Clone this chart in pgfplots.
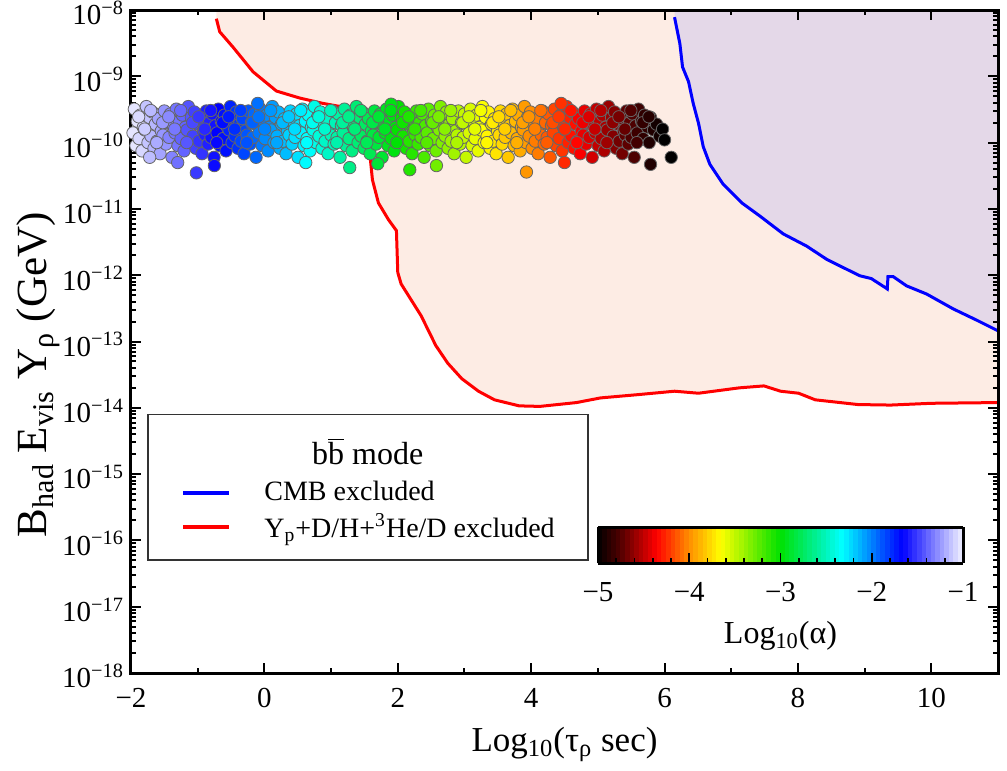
\documentclass[border=0pt]{standalone}
\usepackage{fontspec}
\setmainfont{Liberation Serif}
\usepackage{pgfplots}
\usepackage{pgfplotstable}
\pgfplotsset{compat=1.18}
\definecolor{redfill}{RGB}{253,236,228}
\definecolor{bluefill}{RGB}{228,216,232}
\pgfplotsset{colormap={alphamap}{rgb255(0cm)=(0,0,0) rgb255(0.25cm)=(80,0,0) rgb255(0.65cm)=(255,0,0) rgb255(1cm)=(255,140,0) rgb255(1.35cm)=(255,255,0) rgb255(2cm)=(0,225,0) rgb255(2.4cm)=(0,240,150) rgb255(2.68cm)=(0,255,255) rgb255(3.34cm)=(0,0,255) rgb255(4cm)=(240,240,255)}}

\pgfplotstableread{
x y c
-1.95 3.2e-10 -1.03
-1.905 2.1e-10 -1.03
-1.97 1.4e-10 -1.03
-1.925 0.9e-10 -1.03
-1.86 2.6e-10 -1.07
-1.815 1.7e-10 -1.07
-1.88 1.15e-10 -1.07
-1.835 0.75e-10 -1.07
-1.77 3.5e-10 -1.12
-1.725 2.4e-10 -1.12
-1.79 1.55e-10 -1.12
-1.745 1.0e-10 -1.12
-1.68 2.9e-10 -1.16
-1.635 1.9e-10 -1.16
-1.70 1.25e-10 -1.16
-1.655 0.82e-10 -1.16
-1.59 2.3e-10 -1.21
-1.545 1.5e-10 -1.21
-1.61 1.05e-10 -1.21
-1.565 0.68e-10 -1.21
-1.50 3.0e-10 -1.25
-1.455 2.0e-10 -1.25
-1.52 1.3e-10 -1.25
-1.475 0.95e-10 -1.25
-1.41 2.7e-10 -1.30
-1.365 1.8e-10 -1.30
-1.43 1.2e-10 -1.30
-1.385 0.6e-10 -1.30
-1.32 3.2e-10 -1.34
-1.275 2.1e-10 -1.34
-1.34 1.4e-10 -1.34
-1.295 0.9e-10 -1.34
-1.23 2.6e-10 -1.39
-1.185 1.7e-10 -1.39
-1.25 1.15e-10 -1.39
-1.205 0.75e-10 -1.39
-1.14 3.5e-10 -1.43
-1.095 2.4e-10 -1.43
-1.16 1.55e-10 -1.43
-1.115 1.0e-10 -1.43
-1.05 2.9e-10 -1.48
-1.005 1.9e-10 -1.48
-1.07 1.25e-10 -1.48
-1.025 0.82e-10 -1.48
-0.96 2.3e-10 -1.52
-0.915 1.5e-10 -1.52
-0.98 1.05e-10 -1.52
-0.935 0.68e-10 -1.52
-0.87 3.0e-10 -1.57
-0.825 2.0e-10 -1.57
-0.89 1.3e-10 -1.57
-0.845 0.95e-10 -1.57
-0.78 2.7e-10 -1.61
-0.735 1.8e-10 -1.61
-0.80 1.2e-10 -1.61
-0.755 0.6e-10 -1.61
-0.69 3.2e-10 -1.66
-0.645 2.1e-10 -1.66
-0.71 1.4e-10 -1.66
-0.665 0.9e-10 -1.66
-0.60 2.6e-10 -1.70
-0.555 1.7e-10 -1.70
-0.62 1.15e-10 -1.70
-0.575 0.75e-10 -1.70
-0.51 3.5e-10 -1.75
-0.465 2.4e-10 -1.75
-0.53 1.55e-10 -1.75
-0.485 1.0e-10 -1.75
-0.42 2.9e-10 -1.79
-0.375 1.9e-10 -1.79
-0.44 1.25e-10 -1.79
-0.395 0.82e-10 -1.79
-0.33 2.3e-10 -1.84
-0.285 1.5e-10 -1.84
-0.35 1.05e-10 -1.84
-0.305 0.68e-10 -1.84
-0.24 3.0e-10 -1.88
-0.195 2.0e-10 -1.88
-0.26 1.3e-10 -1.88
-0.215 0.95e-10 -1.88
-0.15 2.7e-10 -1.93
-0.105 1.8e-10 -1.93
-0.17 1.2e-10 -1.93
-0.125 0.6e-10 -1.93
-0.06 3.2e-10 -1.97
-0.015 2.1e-10 -1.97
-0.08 1.4e-10 -1.97
-0.035 0.9e-10 -1.97
0.03 2.6e-10 -2.02
0.075 1.7e-10 -2.02
0.01 1.15e-10 -2.02
0.055 0.75e-10 -2.02
0.12 3.5e-10 -2.06
0.165 2.4e-10 -2.06
0.10 1.55e-10 -2.06
0.145 1.0e-10 -2.06
0.21 2.9e-10 -2.11
0.255 1.9e-10 -2.11
0.19 1.25e-10 -2.11
0.235 0.82e-10 -2.11
0.30 2.3e-10 -2.15
0.345 1.5e-10 -2.15
0.28 1.05e-10 -2.15
0.325 0.68e-10 -2.15
0.39 3.0e-10 -2.20
0.435 2.0e-10 -2.20
0.37 1.3e-10 -2.20
0.415 0.95e-10 -2.20
0.48 2.7e-10 -2.24
0.525 1.8e-10 -2.24
0.46 1.2e-10 -2.24
0.505 0.6e-10 -2.24
0.57 3.2e-10 -2.29
0.615 2.1e-10 -2.29
0.55 1.4e-10 -2.29
0.595 0.9e-10 -2.29
0.66 2.6e-10 -2.33
0.705 1.7e-10 -2.33
0.64 1.15e-10 -2.33
0.685 0.75e-10 -2.33
0.75 3.5e-10 -2.38
0.795 2.4e-10 -2.38
0.73 1.55e-10 -2.38
0.775 1.0e-10 -2.38
0.84 2.9e-10 -2.42
0.885 1.9e-10 -2.42
0.82 1.25e-10 -2.42
0.865 0.82e-10 -2.42
0.93 2.3e-10 -2.47
0.975 1.5e-10 -2.47
0.91 1.05e-10 -2.47
0.955 0.68e-10 -2.47
1.02 3.0e-10 -2.51
1.065 2.0e-10 -2.51
1.00 1.3e-10 -2.51
1.045 0.95e-10 -2.51
1.11 2.7e-10 -2.56
1.155 1.8e-10 -2.56
1.09 1.2e-10 -2.56
1.135 0.6e-10 -2.56
1.20 3.2e-10 -2.60
1.245 2.1e-10 -2.60
1.18 1.4e-10 -2.60
1.225 0.9e-10 -2.60
1.29 2.6e-10 -2.65
1.335 1.7e-10 -2.65
1.27 1.15e-10 -2.65
1.315 0.75e-10 -2.65
1.38 3.5e-10 -2.69
1.425 2.4e-10 -2.69
1.36 1.55e-10 -2.69
1.405 1.0e-10 -2.69
1.47 2.9e-10 -2.74
1.515 1.9e-10 -2.74
1.45 1.25e-10 -2.74
1.495 0.82e-10 -2.74
1.56 2.3e-10 -2.78
1.605 1.5e-10 -2.78
1.54 1.05e-10 -2.78
1.585 0.68e-10 -2.78
1.65 3.0e-10 -2.83
1.695 2.0e-10 -2.83
1.63 1.3e-10 -2.83
1.675 0.95e-10 -2.83
1.74 2.7e-10 -2.87
1.785 1.8e-10 -2.87
1.72 1.2e-10 -2.87
1.765 0.6e-10 -2.87
1.83 3.2e-10 -2.92
1.875 2.1e-10 -2.92
1.81 1.4e-10 -2.92
1.855 0.9e-10 -2.92
1.92 2.6e-10 -2.96
1.965 1.7e-10 -2.96
1.90 1.15e-10 -2.96
1.945 0.75e-10 -2.96
2.01 3.5e-10 -3.01
2.055 2.4e-10 -3.01
1.99 1.55e-10 -3.01
2.035 1.0e-10 -3.01
2.10 2.9e-10 -3.05
2.145 1.9e-10 -3.05
2.08 1.25e-10 -3.05
2.125 0.82e-10 -3.05
2.19 2.3e-10 -3.10
2.235 1.5e-10 -3.10
2.17 1.05e-10 -3.10
2.215 0.68e-10 -3.10
2.28 3.0e-10 -3.14
2.325 2.0e-10 -3.14
2.26 1.3e-10 -3.14
2.305 0.95e-10 -3.14
2.37 2.7e-10 -3.19
2.415 1.8e-10 -3.19
2.35 1.2e-10 -3.19
2.395 0.6e-10 -3.19
2.46 3.2e-10 -3.23
2.505 2.1e-10 -3.23
2.44 1.4e-10 -3.23
2.485 0.9e-10 -3.23
2.55 2.6e-10 -3.28
2.595 1.7e-10 -3.28
2.53 1.15e-10 -3.28
2.575 0.75e-10 -3.28
2.64 3.5e-10 -3.32
2.685 2.4e-10 -3.32
2.62 1.55e-10 -3.32
2.665 1.0e-10 -3.32
2.73 2.9e-10 -3.37
2.775 1.9e-10 -3.37
2.71 1.25e-10 -3.37
2.755 0.82e-10 -3.37
2.82 2.3e-10 -3.41
2.865 1.5e-10 -3.41
2.80 1.05e-10 -3.41
2.845 0.68e-10 -3.41
2.91 3.0e-10 -3.46
2.955 2.0e-10 -3.46
2.89 1.3e-10 -3.46
2.935 0.95e-10 -3.46
3.00 2.7e-10 -3.50
3.045 1.8e-10 -3.50
2.98 1.2e-10 -3.50
3.025 0.6e-10 -3.50
3.09 3.2e-10 -3.55
3.135 2.1e-10 -3.55
3.07 1.4e-10 -3.55
3.115 0.9e-10 -3.55
3.18 2.6e-10 -3.59
3.225 1.7e-10 -3.59
3.16 1.15e-10 -3.59
3.205 0.75e-10 -3.59
3.27 3.5e-10 -3.64
3.315 2.4e-10 -3.64
3.25 1.55e-10 -3.64
3.295 1.0e-10 -3.64
3.36 2.9e-10 -3.68
3.405 1.9e-10 -3.68
3.34 1.25e-10 -3.68
3.385 0.82e-10 -3.68
3.45 2.3e-10 -3.73
3.495 1.5e-10 -3.73
3.43 1.05e-10 -3.73
3.475 0.68e-10 -3.73
3.54 3.0e-10 -3.77
3.585 2.0e-10 -3.77
3.52 1.3e-10 -3.77
3.565 0.95e-10 -3.77
3.63 2.7e-10 -3.82
3.675 1.8e-10 -3.82
3.61 1.2e-10 -3.82
3.655 0.6e-10 -3.82
3.72 3.2e-10 -3.86
3.765 2.1e-10 -3.86
3.70 1.4e-10 -3.86
3.745 0.9e-10 -3.86
3.81 2.6e-10 -3.91
3.855 1.7e-10 -3.91
3.79 1.15e-10 -3.91
3.835 0.75e-10 -3.91
3.90 3.5e-10 -3.95
3.945 2.4e-10 -3.95
3.88 1.55e-10 -3.95
3.925 1.0e-10 -3.95
3.99 2.9e-10 -4.00
4.035 1.9e-10 -4.00
3.97 1.25e-10 -4.00
4.015 0.82e-10 -4.00
4.08 2.3e-10 -4.04
4.125 1.5e-10 -4.04
4.06 1.05e-10 -4.04
4.105 0.68e-10 -4.04
4.17 3.0e-10 -4.09
4.215 2.0e-10 -4.09
4.15 1.3e-10 -4.09
4.195 0.95e-10 -4.09
4.26 2.7e-10 -4.13
4.305 1.8e-10 -4.13
4.24 1.2e-10 -4.13
4.285 0.6e-10 -4.13
4.35 3.2e-10 -4.18
4.395 2.1e-10 -4.18
4.33 1.4e-10 -4.18
4.375 0.9e-10 -4.18
4.44 2.6e-10 -4.22
4.485 1.7e-10 -4.22
4.42 1.15e-10 -4.22
4.465 0.75e-10 -4.22
4.53 3.5e-10 -4.27
4.575 2.4e-10 -4.27
4.51 1.55e-10 -4.27
4.555 1.0e-10 -4.27
4.62 2.9e-10 -4.31
4.665 1.9e-10 -4.31
4.60 1.25e-10 -4.31
4.645 0.82e-10 -4.31
4.71 2.3e-10 -4.36
4.755 1.5e-10 -4.36
4.69 1.05e-10 -4.36
4.735 0.68e-10 -4.36
4.80 3.0e-10 -4.40
4.845 2.0e-10 -4.40
4.78 1.3e-10 -4.40
4.825 0.95e-10 -4.40
4.89 2.7e-10 -4.45
4.935 1.8e-10 -4.45
4.87 1.2e-10 -4.45
4.915 0.6e-10 -4.45
4.98 3.2e-10 -4.49
5.025 2.1e-10 -4.49
4.96 1.4e-10 -4.49
5.005 0.9e-10 -4.49
5.07 2.6e-10 -4.54
5.115 1.7e-10 -4.54
5.05 1.15e-10 -4.54
5.095 0.75e-10 -4.54
5.16 3.5e-10 -4.58
5.205 2.4e-10 -4.58
5.14 1.55e-10 -4.58
5.185 1.0e-10 -4.58
5.25 2.9e-10 -4.63
5.295 1.9e-10 -4.63
5.23 1.25e-10 -4.63
5.275 0.82e-10 -4.63
5.34 2.3e-10 -4.67
5.385 1.5e-10 -4.67
5.32 1.05e-10 -4.67
5.365 0.68e-10 -4.67
5.43 3.0e-10 -4.72
5.475 2.0e-10 -4.72
5.41 1.3e-10 -4.72
5.455 0.95e-10 -4.72
5.52 2.7e-10 -4.76
5.565 1.8e-10 -4.76
5.50 1.2e-10 -4.76
5.545 0.6e-10 -4.76
5.61 3.2e-10 -4.81
5.655 2.1e-10 -4.81
5.59 1.4e-10 -4.81
5.70 2.6e-10 -4.85
5.745 1.7e-10 -4.85
5.68 1.15e-10 -4.85
5.79 2.4e-10 -4.90
5.835 1.55e-10 -4.90
5.77 1.0e-10 -4.90
5.88 1.9e-10 -4.94
5.925 1.25e-10 -4.94
5.97 1.6e-10 -4.99
6.00 1.1e-10 -5.00
6.10 0.6e-10 -5.00
5.79 0.47e-10 -4.90
-1.02 0.35e-10 -1.50
-1.72 0.6e-10 -1.14
1.28 0.42e-10 -2.64
2.18 0.39e-10 -3.09
2.58 0.45e-10 -3.29
3.93 0.36e-10 -3.97
-0.75 0.45e-10 -1.63
0.62 0.5e-10 -2.31
4.50 0.5e-10 -4.25
1.70 0.48e-10 -2.85
-1.30 0.5e-10 -1.35
-0.10 3.9e-10 -1.95
4.45 3.9e-10 -4.23
1.90 3.8e-10 -2.95
-1.885 2.45e-10 -1.06
-1.795 1.6e-10 -1.10
-1.705 3.05e-10 -1.15
-1.615 1.0e-10 -1.19
-1.525 2.0e-10 -1.24
-1.435 2.45e-10 -1.28
-1.345 1.6e-10 -1.33
-1.255 3.05e-10 -1.37
-1.165 1.0e-10 -1.42
-1.075 2.0e-10 -1.46
-0.985 2.45e-10 -1.51
-0.895 1.6e-10 -1.55
-0.805 3.05e-10 -1.60
-0.715 1.0e-10 -1.64
-0.625 2.0e-10 -1.69
-0.535 2.45e-10 -1.73
-0.445 1.6e-10 -1.78
-0.355 3.05e-10 -1.82
-0.265 1.0e-10 -1.87
-0.175 2.0e-10 -1.91
-0.085 2.45e-10 -1.96
0.005 1.6e-10 -2.00
0.095 3.05e-10 -2.05
0.185 1.0e-10 -2.09
0.275 2.0e-10 -2.14
0.365 2.45e-10 -2.18
0.455 1.6e-10 -2.23
0.545 3.05e-10 -2.27
0.635 1.0e-10 -2.32
0.725 2.0e-10 -2.36
0.815 2.45e-10 -2.41
0.905 1.6e-10 -2.45
0.995 3.05e-10 -2.50
1.085 1.0e-10 -2.54
1.175 2.0e-10 -2.59
1.265 2.45e-10 -2.63
1.355 1.6e-10 -2.68
1.445 3.05e-10 -2.72
1.535 1.0e-10 -2.77
1.625 2.0e-10 -2.81
1.715 2.45e-10 -2.86
1.805 1.6e-10 -2.90
1.895 3.05e-10 -2.95
1.985 1.0e-10 -2.99
2.075 2.0e-10 -3.04
2.165 2.45e-10 -3.08
2.255 1.6e-10 -3.13
2.345 3.05e-10 -3.17
2.435 1.0e-10 -3.22
2.525 2.0e-10 -3.26
2.615 2.45e-10 -3.31
2.705 1.6e-10 -3.35
2.795 3.05e-10 -3.40
2.885 1.0e-10 -3.44
2.975 2.0e-10 -3.49
3.065 2.45e-10 -3.53
3.155 1.6e-10 -3.58
3.245 3.05e-10 -3.62
3.335 1.0e-10 -3.67
3.425 2.0e-10 -3.71
3.515 2.45e-10 -3.76
3.605 1.6e-10 -3.80
3.695 3.05e-10 -3.85
3.785 1.0e-10 -3.89
3.875 2.0e-10 -3.94
3.965 2.45e-10 -3.98
4.055 1.6e-10 -4.03
4.145 3.05e-10 -4.07
4.235 1.0e-10 -4.12
4.325 2.0e-10 -4.16
4.415 2.45e-10 -4.21
4.505 1.6e-10 -4.25
4.595 3.05e-10 -4.30
4.685 1.0e-10 -4.34
4.775 2.0e-10 -4.39
4.865 2.45e-10 -4.43
4.955 1.6e-10 -4.48
5.045 3.05e-10 -4.52
5.135 1.0e-10 -4.57
5.225 2.0e-10 -4.61
5.315 2.45e-10 -4.66
5.405 1.6e-10 -4.70
5.495 3.05e-10 -4.75
5.585 1.0e-10 -4.79
5.675 2.0e-10 -4.84
5.765 2.45e-10 -4.88
}\scatterdata

\begin{document}
\begin{tikzpicture}
\begin{axis}[
  name=main,
  scale only axis, width=433.5pt, height=331.5pt,
  xmin=-2, xmax=11, ymin=1e-18, ymax=1e-8, ymode=log,
  axis on top,
  xtick={-2,0,2,4,6,8,10},
  xticklabels={−2,0,2,4,6,8,10},
  minor x tick num=1,
  ytick={1e-18,1e-17,1e-16,1e-15,1e-14,1e-13,1e-12,1e-11,1e-10,1e-9,1e-8},
  yticklabels={10\textsuperscript{−18},10\textsuperscript{−17},10\textsuperscript{−16},10\textsuperscript{−15},10\textsuperscript{−14},10\textsuperscript{−13},10\textsuperscript{−12},10\textsuperscript{−11},10\textsuperscript{−10},10\textsuperscript{−9},10\textsuperscript{−8}},
  tick align=inside,
  major tick length=5pt, minor tick length=2.5pt,
  every tick/.style={black, line width=1pt},
  axis line style={line width=1.5pt},
  tick label style={font=\fontsize{14.5}{17}\selectfont},
  xticklabel style={yshift=-4pt},
  yticklabel style={yshift=-1.5pt},
  xlabel={Log\textsubscript{10}(τ\textsubscript{ρ} sec)},
  ylabel={B\textsubscript{had} E\textsubscript{vis} Y\textsubscript{ρ} (GeV)},
  xlabel style={font=\fontsize{17.5}{21}\selectfont, at={(axis description cs:0.5,-0.108)}, anchor=center},
  ylabel style={font=\fontsize{21.5}{25}\selectfont, at={(axis description cs:-0.107,0.45)}, anchor=center},
  colormap name=alphamap,
  point meta min=-5, point meta max=-1,
  colorbar horizontal,
  colorbar sampled={surf, mark=none, shader=flat},
  colorbar style={
    at={(parent axis.south west)},
    anchor=south west,
    xshift=233.5pt, yshift=63.5pt,
    scale only axis,
    width=182.5pt, height=18pt,
    samples=81,
    enlargelimits=false,
    axis on top,
    xtick={-5,-4,-3,-2,-1},
    xticklabels={−5,−4,−3,−2,−1},
    minor x tick num=4,
    xtick pos=left, xticklabel pos=left,
    tick align=inside,
    major tick length=5pt, minor tick length=2.5pt,
    every tick/.style={black, line width=0.9pt},
    axis line style={line width=1.5pt},
    tick label style={font=\fontsize{14.5}{17}\selectfont},
    xticklabel style={yshift=-6pt},
    xlabel={Log\textsubscript{10}(α)},
    xlabel style={font=\fontsize{16}{19}\selectfont, yshift=-3pt},
  },
  legend style={draw=none, fill=none, at={(rel axis cs:0.0577,0.2445)}, anchor=west,
    font=\fontsize{14}{16}\selectfont, inner sep=0pt, row sep=1pt, column sep=14.5pt},
  legend image code/.code={\draw[#1, line width=2pt] (0pt,0pt) -- (23pt,0pt);},
  legend cell align=left,
]
% excluded regions
\addplot[draw=none, fill=redfill, forget plot] coordinates {
(-0.72,1e-8) (-0.72,7.4e-9) (-0.67,4.7e-9) (-0.47,2.75e-9) (-0.17,1.17e-9) (0.18,6.0e-10)
(0.53,4.7e-10) (0.88,3.9e-10) (1.28,3.3e-10) (1.58,3.0e-10) (1.62,2.35e-10) (1.66,1.23e-10)
(1.63,7.8e-11) (1.59,5.5e-11) (1.62,2.75e-11) (1.71,1.23e-11) (1.86,6.9e-12) (1.98,4.7e-12)
(2.0,1.1e-12) (2.05,7.4e-13) (2.35,2.45e-13) (2.57,8.7e-14) (2.75,4.7e-14) (2.96,2.75e-14)
(3.21,1.78e-14) (3.45,1.32e-14) (3.82,1.07e-14) (4.13,1.05e-14) (4.68,1.2e-14) (5.04,1.41e-14)
(5.60,1.58e-14) (6.15,1.78e-14) (6.51,1.66e-14) (7.12,2.0e-14) (7.49,2.14e-14) (7.74,1.78e-14)
(8.01,1.66e-14) (8.26,1.32e-14) (8.90,1.12e-14) (9.39,1.1e-14) (10.0,1.17e-14) (11.0,1.2e-14)
(11,1e-8)} -- cycle;
\addplot[draw=none, fill=bluefill, forget plot] coordinates {
(6.15,1e-8) (6.15,7.8e-9) (6.23,3.1e-9) (6.27,1.38e-9) (6.36,8.3e-10) (6.43,3.9e-10) (6.51,1.95e-10)
(6.58,8.7e-11) (6.68,4.7e-11) (6.88,2.35e-11) (7.16,1.23e-11) (7.43,7.8e-12) (7.78,4.2e-12)
(8.13,2.75e-12) (8.43,1.74e-12) (8.73,1.23e-12) (8.93,9.8e-13) (9.10,8.9e-13) (9.30,6.6e-13)
(9.34,6.2e-13) (9.35,9.5e-13) (9.43,9.5e-13) (9.63,6.9e-13) (9.93,5.2e-13) (10.33,3.1e-13)
(10.68,2.1e-13) (11.0,1.45e-13) (11,1e-8)} -- cycle;
% scatter points
\addplot[scatter, only marks, mark=*, mark size=3.1pt, forget plot,
  point meta=explicit,
  scatter/use mapped color={draw=black!60, fill=mapped color, line width=0.4pt}]
  table[x=x, y=y, meta=c] {\scatterdata};
% boundary lines
\addplot[blue, line width=1.5pt] coordinates {
(6.15,7.8e-9) (6.23,3.1e-9) (6.27,1.38e-9) (6.36,8.3e-10) (6.43,3.9e-10) (6.51,1.95e-10)
(6.58,8.7e-11) (6.68,4.7e-11) (6.88,2.35e-11) (7.16,1.23e-11) (7.43,7.8e-12) (7.78,4.2e-12)
(8.13,2.75e-12) (8.43,1.74e-12) (8.73,1.23e-12) (8.93,9.8e-13) (9.10,8.9e-13) (9.30,6.6e-13)
(9.34,6.2e-13) (9.35,9.5e-13) (9.43,9.5e-13) (9.63,6.9e-13) (9.93,5.2e-13) (10.33,3.1e-13)
(10.68,2.1e-13) (11.0,1.45e-13)};
\addlegendentry{CMB excluded}
\addplot[red, line width=1.5pt] coordinates {
(-0.72,7.4e-9) (-0.67,4.7e-9) (-0.47,2.75e-9) (-0.17,1.17e-9) (0.18,6.0e-10)
(0.53,4.7e-10) (0.88,3.9e-10) (1.28,3.3e-10) (1.58,3.0e-10) (1.62,2.35e-10) (1.66,1.23e-10)
(1.63,7.8e-11) (1.59,5.5e-11) (1.62,2.75e-11) (1.71,1.23e-11) (1.86,6.9e-12) (1.98,4.7e-12)
(2.0,1.1e-12) (2.05,7.4e-13) (2.35,2.45e-13) (2.57,8.7e-14) (2.75,4.7e-14) (2.96,2.75e-14)
(3.21,1.78e-14) (3.45,1.32e-14) (3.82,1.07e-14) (4.13,1.05e-14) (4.68,1.2e-14) (5.04,1.41e-14)
(5.60,1.58e-14) (6.15,1.78e-14) (6.51,1.66e-14) (7.12,2.0e-14) (7.49,2.14e-14) (7.74,1.78e-14)
(8.01,1.66e-14) (8.26,1.32e-14) (8.90,1.12e-14) (9.39,1.1e-14) (10.0,1.17e-14) (11.0,1.2e-14)};
\addlegendentry{Y\textsubscript{p}+D/H+\textsuperscript{3}He/D excluded}
% legend frame and title
\draw[black!80, line width=0.9pt] (rel axis cs:0.0196,0.171) rectangle (rel axis cs:0.527,0.390);
\node[font=\fontsize{16}{19}\selectfont] at (rel axis cs:0.273,0.334) {b$\overline{\hbox{b}}$ mode};
\end{axis}
\pgfresetboundingbox
\path ([shift={(-65.5pt,-49pt)}]main.south west) rectangle ([shift={(4.5pt,5pt)}]main.north east);
\end{tikzpicture}
\end{document}
